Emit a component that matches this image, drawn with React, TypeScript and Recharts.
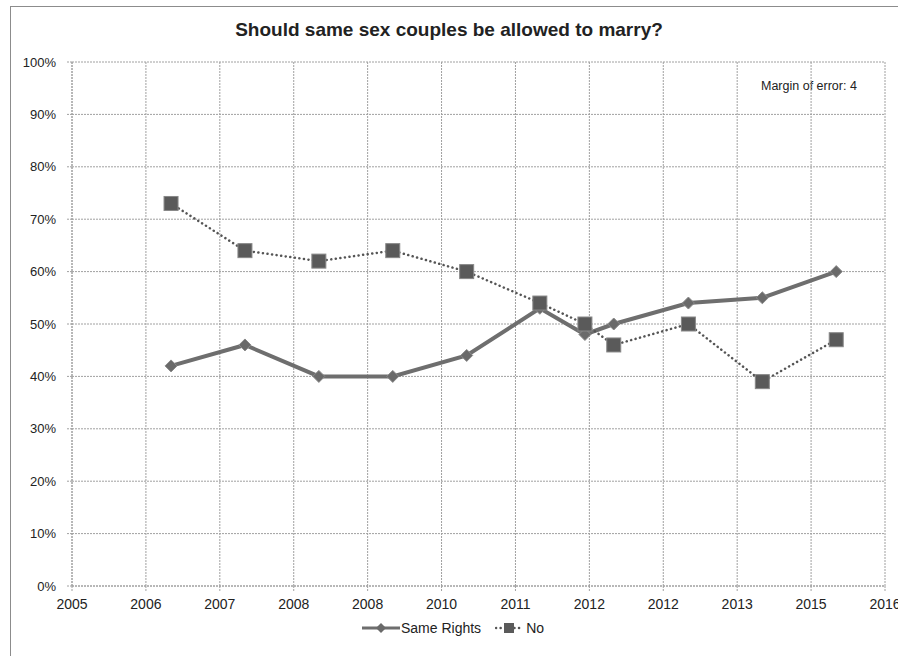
import React from 'react'
import { LineChart, Line, XAxis, YAxis, CartesianGrid } from 'recharts'

// survey positions on the (date) axis, in axis-step units from 2005
const surveyPos = [1.34, 2.34, 3.34, 4.34, 5.34, 6.33, 6.94, 7.33, 8.34, 9.34, 10.34]
const sameRights = [42, 46, 40, 40, 44, 53, 48, 50, 54, 55, 60]
const noVotes = [73, 64, 62, 64, 60, 54, 50, 46, 50, 39, 47]

const xTickLabels = ['2005', '2006', '2007', '2008', '2008', '2010', '2011', '2012', '2012', '2013', '2015', '2016']
const yTicks = [0, 10, 20, 30, 40, 50, 60, 70, 80, 90, 100]

const data = surveyPos.map((p, i) => ({ pos: p, same: sameRights[i], no: noVotes[i] }))

const FONT = '"Liberation Sans", Arial, sans-serif'

function Diamond(props: any) {
  const { cx, cy } = props
  if (cx == null || cy == null) return null
  const r = 6
  return (
    <polygon
      points={`${cx},${cy - r} ${cx + r},${cy} ${cx},${cy + r} ${cx - r},${cy}`}
      fill="#6a6a6a"
      stroke="#8a8a8a"
      strokeWidth={1}
    />
  )
}

function Square(props: any) {
  const { cx, cy } = props
  if (cx == null || cy == null) return null
  return <rect x={cx - 7} y={cy - 7} width={14} height={14} fill="#5a5a5a" stroke="#888" strokeWidth={1} />
}

export default function App() {
  return (
    <div style={{ position: 'absolute', left: 0, top: 0, width: 898, height: 656, background: '#fff', fontFamily: FONT }}>
      <div style={{ position: 'absolute', left: 10, top: 6, width: 900, height: 660, border: '1px solid #8c8c8c', boxSizing: 'border-box' }} />
      <div style={{ position: 'absolute', left: 0, top: 19, width: 898, textAlign: 'center', fontSize: 19, fontWeight: 'bold', color: '#222' }}>
        Should same sex couples be allowed to marry?
      </div>
      <div style={{ position: 'absolute', left: 761, top: 79, fontSize: 12.5, color: '#222' }}>Margin of error: 4</div>
      <LineChart width={898} height={656} data={data} margin={{ top: 62, right: 13, bottom: 36, left: 10 }}>
        <CartesianGrid stroke="#a0a0a0" strokeDasharray="2 1" horizontal vertical />
        <XAxis
          type="number"
          dataKey="pos"
          domain={[0, 11]}
          ticks={xTickLabels.map((_, i) => i)}
          tickFormatter={(v: number) => xTickLabels[v]}
          interval={0}
          stroke="#a0a0a0"
          strokeDasharray="2 1"
          tickSize={5}
          tickMargin={8}
          height={34}
          tick={{ fontSize: 14, fill: '#222', fontFamily: FONT }}
        />
        <YAxis
          type="number"
          domain={[0, 100]}
          ticks={yTicks}
          tickFormatter={(v: number) => `${v}%`}
          interval={0}
          width={62}
          stroke="#a0a0a0"
          strokeDasharray="2 1"
          tickSize={5}
          tickMargin={11}
          tick={{ fontSize: 13, fill: '#222', fontFamily: FONT }}
        />
        <Line
          dataKey="same"
          stroke="#6e6e6e"
          strokeWidth={4}
          dot={<Diamond />}
          activeDot={false}
          isAnimationActive={false}
        />
        <Line
          dataKey="no"
          stroke="#555"
          strokeWidth={2.5}
          strokeDasharray="0.1 4.5"
          strokeLinecap="round"
          dot={<Square />}
          activeDot={false}
          isAnimationActive={false}
        />
      </LineChart>
      <div style={{ position: 'absolute', left: 0, top: 620, width: 898, display: 'flex', justifyContent: 'center', alignItems: 'center', fontSize: 14, color: '#222', paddingLeft: 8, boxSizing: 'border-box' }}>
        <svg width={38} height={12}>
          <line x1={0} y1={6} x2={38} y2={6} stroke="#6e6e6e" strokeWidth={3} />
          <polygon points="19,1 24,6 19,11 14,6" fill="#6a6a6a" />
        </svg>
        <span style={{ marginLeft: 1 }}>Same Rights</span>
        <svg width={28} height={12} style={{ marginLeft: 14 }}>
          <line x1={1} y1={6} x2={27} y2={6} stroke="#555" strokeWidth={2.5} strokeDasharray="0.1 4.5" strokeLinecap="round" />
          <rect x={9} y={1} width={10} height={10} fill="#5a5a5a" />
        </svg>
        <span style={{ marginLeft: 3 }}>No</span>
      </div>
    </div>
  )
}
